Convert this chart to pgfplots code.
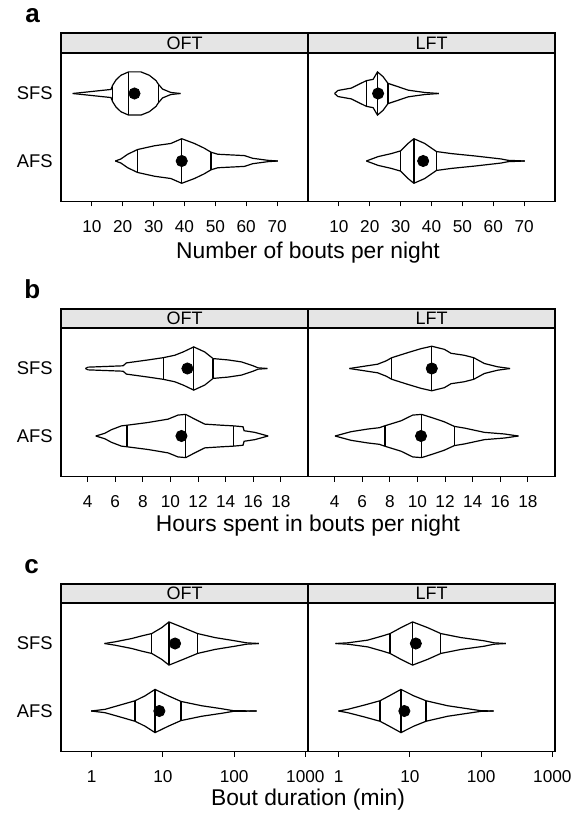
\documentclass[border=0pt]{standalone}
\usepackage{fontspec}
\setmainfont{Liberation Sans}
\usepackage{pgfplots}
\usepackage{pgfplotstable}
\pgfplotsset{compat=1.18}
\definecolor{stripgray}{RGB}{229,229,229}

% violin outlines: x, half-width h (in category units)
\pgfplotstableread{
x h
3.8 0
16.2 0.06
16.7 0.12
17.8 0.20
19.4 0.27
21.9 0.32
25.9 0.32
28.6 0.27
30.8 0.19
31.5 0.14
32.9 0.065
35.6 0.015
38.7 0
}\aOS
\pgfplotstableread{
x h
17.6 0
19.4 0.03
21.6 0.10
24.8 0.17
30.2 0.225
35.6 0.26
39.1 0.33
43.2 0.26
46.4 0.19
48.6 0.13
50.8 0.10
59.4 0.08
62.1 0.04
67.0 0.01
70.2 0
}\aOA
\pgfplotstableread{
x h
8.6 0
9.7 0.045
14.0 0.08
16.2 0.13
18.9 0.19
21.1 0.21
22.5 0.32
24.3 0.25
25.9 0.15
29.2 0.10
32.4 0.05
37.8 0.015
42.4 0
}\aLS
\pgfplotstableread{
x h
18.9 0
22.7 0.065
27.0 0.11
30.0 0.15
32.4 0.26
34.3 0.33
37.8 0.26
41.6 0.14
46.4 0.11
54.0 0.075
62.6 0.03
64.8 0.01
70.2 0
}\aLA
\pgfplotstableread{
x h
3.84 0
4.03 0.02
6.57 0.04
6.81 0.083
8.38 0.127
9.47 0.16
10.31 0.196
10.92 0.245
11.69 0.32
12.49 0.245
13.09 0.147
14.18 0.127
15.14 0.098
15.99 0.04
16.35 0.01
17.03 0
}\bOS
\pgfplotstableread{
x h
4.59 0
5.24 0.04
5.72 0.093
6.45 0.15
6.86 0.16
8.38 0.20
9.83 0.25
10.55 0.31
11.11 0.32
11.76 0.25
12.49 0.176
13.69 0.16
14.59 0.15
15.26 0.137
15.34 0.078
16.11 0.054
17.08 0
}\bOA
\pgfplotstableread{
x h
5.07 0
7.12 0.064
7.73 0.113
8.14 0.16
9.30 0.235
10.26 0.294
11.04 0.33
11.95 0.284
12.44 0.225
13.40 0.196
14.08 0.16
14.85 0.074
15.82 0.025
16.71 0
}\bLS
\pgfplotstableread{
x h
4.03 0
5.19 0.064
6.40 0.103
7.24 0.123
7.65 0.152
8.81 0.225
9.66 0.31
10.31 0.32
11.23 0.26
11.95 0.21
12.68 0.142
13.40 0.118
14.85 0.054
16.30 0.03
17.32 0
}\bLA
\pgfplotstableread{
x h
1.51 0
2.13 0.025
3.65 0.074
5.04 0.113
6.95 0.147
9.62 0.235
12.16 0.32
18.3 0.245
30.7 0.147
53.7 0.088
102.6 0.04
149.6 0.01
222.8 0
}\cOS
\pgfplotstableread{
x h
0.98 0
1.54 0.025
2.5 0.088
4.06 0.152
5.61 0.225
7.75 0.32
11.9 0.225
17.9 0.142
35.0 0.078
66.7 0.034
97.3 0.005
206.5 0
}\cOA
\pgfplotstableread{
x h
0.90 0
1.34 0.01
2.55 0.05
4.14 0.113
5.25 0.147
7.48 0.235
10.9 0.32
17.7 0.235
27.2 0.147
52.0 0.088
110.4 0.04
152.4 0.01
222.3 0
}\cLS
\pgfplotstableread{
x h
0.99 0
1.34 0.025
2.29 0.088
3.80 0.152
5.13 0.225
7.48 0.32
11.3 0.225
16.8 0.152
33.8 0.078
64.4 0.034
99.1 0.005
149.3 0
}\cLA

\newcommand{\violin}[2]{%
  \addplot[vl] table[x=x, y expr=#1+\thisrow{h}] {#2};
  \addplot[vl] table[x=x, y expr=#1-\thisrow{h}] {#2};}
\newcommand{\qline}[3]{\addplot[vl] coordinates {(#1,#2) (#1,#3)};}

\pgfplotsset{
  vl/.style={black, line width=0.6pt, mark=none, solid},
  meandot/.style={only marks, mark=*, mark size=2.8pt, black},
  panel/.style={
    scale only axis, width=123.5pt, height=74.25pt, anchor=north west,
    ymin=0.4, ymax=2.6, ytick={1,2}, yticklabels={AFS,SFS},
    axis line style={line width=0.75pt},
    xtick pos=left, ytick pos=left,
    xtick align=outside,
    major tick length=2.5pt,
    ytick style={draw=none},
    xtick style={black, line width=0.5pt},
    xticklabel style={font=\fontsize{8.6}{10}\selectfont, anchor=base, inner sep=0pt},
    xticklabel shift=0pt,
    yticklabel style={font=\fontsize{9.2}{11}\selectfont, anchor=east, inner sep=0pt, xshift=-4pt},
    /pgf/number format/assume math mode=true,
    clip=false,
  },
  rpanel/.style={panel, yticklabels={}},
}

\begin{document}
\begin{tikzpicture}
\useasboundingbox (0,0) rectangle (285pt,-406.5pt);

% ---------------- panel a ----------------
\begin{axis}[panel, at={(30.5pt,-26.5pt)}, xmin=0, xmax=80, xtick={10,20,...,70},
  xticklabel style={yshift=-13pt}]
  \violin{2}{\aOS}
  \violin{1}{\aOA}
  \qline{16.6}{1.89}{2.11}
  \qline{21.9}{1.68}{2.32}
  \qline{31.5}{1.86}{2.14}
  \qline{24.8}{0.83}{1.17}
  \qline{39.1}{0.67}{1.33}
  \qline{48.6}{0.87}{1.13}
  \addplot[meandot] coordinates {(23.8,2) (39.1,1)};
\end{axis}
\begin{axis}[rpanel, at={(154pt,-26.5pt)}, xmin=0, xmax=80, xtick={10,20,...,70},
  xticklabel style={yshift=-13pt}]
  \violin{2}{\aLS}
  \violin{1}{\aLA}
  \qline{18.9}{1.81}{2.19}
  \qline{22.5}{1.68}{2.32}
  \qline{25.9}{1.85}{2.15}
  \qline{30.0}{0.85}{1.15}
  \qline{34.3}{0.67}{1.33}
  \qline{41.6}{0.86}{1.14}
  \addplot[meandot] coordinates {(22.7,2) (37.3,1)};
\end{axis}

% ---------------- panel b ----------------
\begin{axis}[panel, at={(30.5pt,-164pt)}, xmin=2.07, xmax=19.97, xtick={4,6,...,18},
  xticklabel style={yshift=-13pt}]
  \violin{2}{\bOS}
  \violin{1}{\bOA}
  \qline{9.47}{1.84}{2.16}
  \qline{11.69}{1.68}{2.32}
  \qline{13.09}{1.853}{2.147}
  \qline{6.86}{0.84}{1.16}
  \qline{11.11}{0.68}{1.32}
  \qline{14.59}{0.85}{1.15}
  \addplot[meandot] coordinates {(11.23,2) (10.8,1)};
\end{axis}
\begin{axis}[rpanel, at={(154pt,-164pt)}, xmin=2.07, xmax=19.97, xtick={4,6,...,18},
  xticklabel style={yshift=-13pt}]
  \violin{2}{\bLS}
  \violin{1}{\bLA}
  \qline{8.14}{1.84}{2.16}
  \qline{11.04}{1.67}{2.33}
  \qline{14.08}{1.84}{2.16}
  \qline{7.65}{0.848}{1.152}
  \qline{10.31}{0.68}{1.32}
  \qline{12.68}{0.858}{1.142}
  \addplot[meandot] coordinates {(11.04,2) (10.26,1)};
\end{axis}

% ---------------- panel c ----------------
\begin{axis}[panel, at={(30.5pt,-301.5pt)}, xmode=log, xmin=0.37, xmax=1090,
  xtick={1,10,100,1000}, xticklabels={1,10,100,1000}, xminorticks=false,
  xticklabel style={yshift=-13pt}]
  \violin{2}{\cOS}
  \violin{1}{\cOA}
  \qline{6.95}{1.853}{2.147}
  \qline{12.16}{1.68}{2.32}
  \qline{30.7}{1.853}{2.147}
  \qline{4.06}{0.848}{1.152}
  \qline{7.75}{0.68}{1.32}
  \qline{17.9}{0.858}{1.142}
  \addplot[meandot] coordinates {(14.8,2) (8.9,1)};
\end{axis}
\begin{axis}[rpanel, at={(154pt,-301.5pt)}, xmode=log, xmin=0.37, xmax=1090,
  xtick={1,10,100,1000}, xticklabels={1,10,100,1000}, xminorticks=false,
  xticklabel style={yshift=-13pt}]
  \violin{2}{\cLS}
  \violin{1}{\cLA}
  \qline{5.25}{1.853}{2.147}
  \qline{10.9}{1.68}{2.32}
  \qline{27.2}{1.853}{2.147}
  \qline{3.80}{0.848}{1.152}
  \qline{7.48}{0.68}{1.32}
  \qline{16.8}{0.848}{1.152}
  \addplot[meandot] coordinates {(12.1,2) (8.34,1)};
\end{axis}

% strips
\foreach \yt/\yb/\yl in {-16.5/-26.5/-24.6, -154.5/-164/-162.2, -292/-301.5/-299.7}{
  \draw[line width=0.75pt, fill=stripgray] (30.5pt,\yt pt) rectangle (154pt,\yb pt);
  \draw[line width=0.75pt, fill=stripgray] (154pt,\yt pt) rectangle (277.5pt,\yb pt);
  \node[anchor=base, inner sep=0pt, font=\fontsize{9}{10}\selectfont] at (92.25pt,\yl pt) {OFT};
  \node[anchor=base, inner sep=0pt, font=\fontsize{9}{10}\selectfont] at (215.75pt,\yl pt) {LFT};
}

% x labels
\node[anchor=base, inner sep=0pt, font=\fontsize{11.4}{13}\selectfont] at (154pt,-129pt) {Number of bouts per night};
\node[anchor=base, inner sep=0pt, font=\fontsize{11.4}{13}\selectfont] at (154pt,-265.5pt) {Hours spent in bouts per night};
\node[anchor=base, inner sep=0pt, font=\fontsize{11.4}{13}\selectfont] at (154pt,-402.5pt) {Bout duration (min)};

% panel letters
\node[anchor=base west, inner sep=0pt, font=\fontsize{13}{15}\selectfont\bfseries] at (12.5pt,-11.5pt) {a};
\node[anchor=base west, inner sep=0pt, font=\fontsize{13}{15}\selectfont\bfseries] at (12pt,-149pt) {b};
\node[anchor=base west, inner sep=0pt, font=\fontsize{13}{15}\selectfont\bfseries] at (12pt,-286.5pt) {c};
\end{tikzpicture}
\end{document}
